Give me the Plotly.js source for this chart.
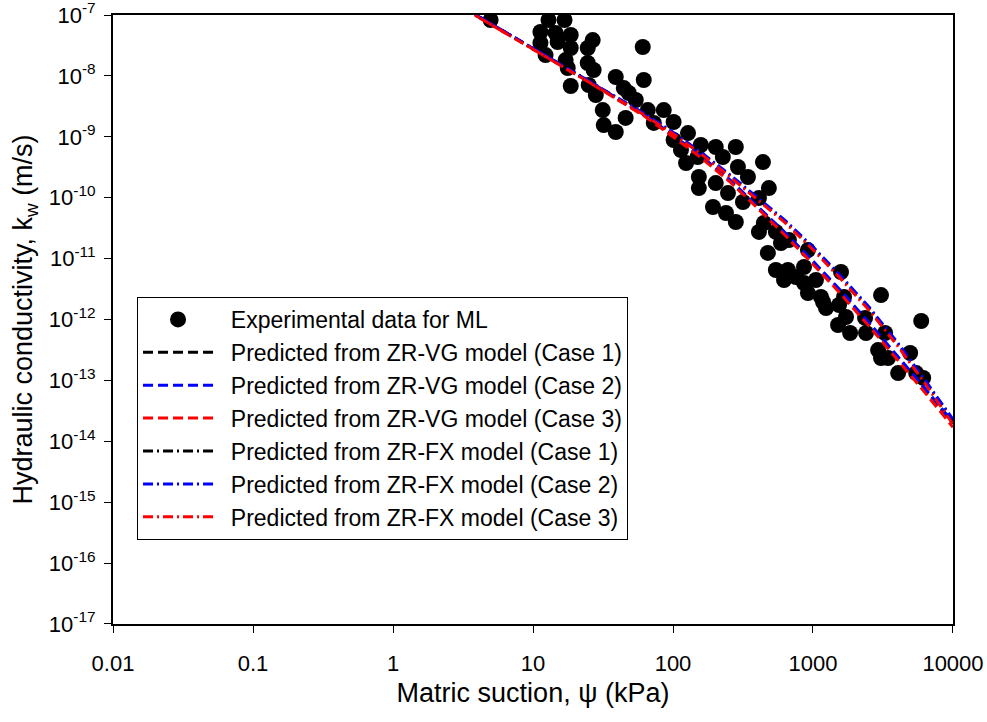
<!DOCTYPE html>
<html>
<head>
<meta charset="utf-8">
<script src="https://cdn.plot.ly/plotly-3.0.1.min.js"></script>
<style>
html,body{margin:0;padding:0;background:#fff;}
#chart{width:987px;height:722px;}
</style>
</head>
<body>
<div id="chart"></div>
<script>
// Experimental data for ML: matric suction (kPa) and hydraulic conductivity (m/s)
const psiExp = [4.98,12.9,16.8,11.3,14.5,18.6,11.3,15.0,18.6,26.7,24.6,12.3,17.1,17.7,24.6,27.1,18.6,25.0,28.1,39.0,
  44.5,48.3,54.2,31.5,32.0,39.0,45.9,60.8,61.8,66.1,85.9,72.9,101,128,101,114,124,158,202,281,
  227,150,153,153,202,247,291,343,439,193,239,281,316,411,484,411,446,476,590,673,
  543,543,662,621,863,863,920,1050,1140,1585,1667,3062,920,755,1180,1239,1535,1722,1510,1841,
  2393,2355,3273,2917,3062,3436,4943,4055,5458,6124,5929];
const kExp = [8.28e-8,8.28e-8,8.28e-8,5.26e-8,5.06e-8,4.70e-8,3.47e-8,3.60e-8,2.87e-8,3.88e-8,2.87e-8,2.20e-8,1.82e-8,1.35e-8,1.63e-8,1.25e-8,6.82e-9,7.09e-9,4.86e-9,9.59e-9,
  6.32e-9,5.24e-9,4.02e-9,2.75e-9,1.56e-9,1.20e-9,2.04e-9,2.98e-8,8.57e-9,2.75e-9,2.75e-9,1.69e-9,1.75e-9,1.15e-9,8.85e-10,6.07e-10,3.71e-10,7.33e-10,6.80e-10,6.80e-10,
  4.66e-10,4.66e-10,2.19e-10,1.44e-10,1.74e-10,1.19e-10,3.19e-10,2.19e-10,3.85e-10,7.03e-11,5.61e-11,3.99e-11,8.49e-11,9.88e-11,1.44e-10,2.74e-11,3.84e-11,1.24e-11,1.80e-11,2.02e-11,
  2.74e-11,6.50e-12,6.50e-12,4.45e-12,7.28e-12,3.97e-12,1.38e-11,4.45e-12,2.34e-12,6.03e-12,2.34e-12,2.52e-12,2.72e-12,4.99e-12,1.94e-12,1.54e-12,1.73e-12,1.10e-12,8.12e-13,6.00e-13,
  6.00e-13,1.06e-12,6.00e-13,3.15e-13,2.33e-13,2.33e-13,2.82e-13,1.32e-13,1.32e-13,1.10e-13,9.45e-13];

// Model predictions
const psiModel = [3.16,6.31,10,15.8,25.1,39.8,63.1,100,158,251,398,631,1000,1585,2512,3981,6310,10000];
const kVG1 = [1.32e-7,5.25e-8,2.82e-8,1.51e-8,8.1e-9,4.25e-9,2.22e-9,1.04e-9,4.75e-10,1.98e-10,7.3e-11,2.6e-11,8.8e-12,2.85e-12,8.6e-13,2.48e-13,7.1e-14,1.95e-14];
const kVG2 = [1.34e-7,5.3e-8,2.85e-8,1.53e-8,8.2e-9,4.3e-9,2.26e-9,1.06e-9,4.85e-10,2.03e-10,7.5e-11,2.68e-11,9.1e-12,2.95e-12,8.9e-13,2.57e-13,7.4e-14,2.05e-14];
const kVG3 = [1.30e-7,5.15e-8,2.76e-8,1.47e-8,7.9e-9,4.12e-9,2.15e-9,1.0e-9,4.55e-10,1.88e-10,6.9e-11,2.42e-11,8.1e-12,2.6e-12,7.8e-13,2.22e-13,6.3e-14,1.7e-14];
const kFX1 = [1.32e-7,5.25e-8,2.82e-8,1.51e-8,8.1e-9,4.35e-9,2.32e-9,1.16e-9,5.45e-10,2.37e-10,9.9e-11,4.1e-11,1.49e-11,4.95e-12,1.53e-12,4.1e-13,9.6e-14,2.2e-14];
const kFX2 = [1.34e-7,5.3e-8,2.85e-8,1.53e-8,8.2e-9,4.4e-9,2.37e-9,1.19e-9,5.6e-10,2.45e-10,1.02e-10,4.25e-11,1.55e-11,5.15e-12,1.6e-12,4.3e-13,1.01e-13,2.3e-14];
const kFX3 = [1.30e-7,5.15e-8,2.76e-8,1.47e-8,7.9e-9,4.22e-9,2.25e-9,1.12e-9,5.25e-10,2.27e-10,9.4e-11,3.9e-11,1.4e-11,4.6e-12,1.42e-12,3.8e-13,8.9e-14,1.9e-14];

const seriesNames = [
  'Experimental data for ML',
  'Predicted from ZR-VG model (Case 1)',
  'Predicted from ZR-VG model (Case 2)',
  'Predicted from ZR-VG model (Case 3)',
  'Predicted from ZR-FX model (Case 1)',
  'Predicted from ZR-FX model (Case 2)',
  'Predicted from ZR-FX model (Case 3)'
];

const xTickVals = [0.01,0.1,1,10,100,1000,10000];
const xTickText = ['0.01','0.1','1','10','100','1000','10000'];
const yTickVals = [1e-17,1e-16,1e-15,1e-14,1e-13,1e-12,1e-11,1e-10,1e-9,1e-8,1e-7];
const yTickText = ['10<sup>-17</sup>','10<sup>-16</sup>','10<sup>-15</sup>','10<sup>-14</sup>','10<sup>-13</sup>','10<sup>-12</sup>','10<sup>-11</sup>','10<sup>-10</sup>','10<sup>-9</sup>','10<sup>-8</sup>','10<sup>-7</sup>'];

const FONT = 'Liberation Sans, Arial, sans-serif';
const DASH = '10px,5px';
const DASHDOT = '10px,4px,2px,4px';
const PAD = '\u00a0\u00a0';

function lineTrace(y, name, color, dash) {
  return {x: psiModel, y: y, name: PAD + name, type: 'scatter', mode: 'lines',
    line: {color: color, width: 3, dash: dash}};
}

const traces = [
  {x: psiExp, y: kExp, name: PAD + seriesNames[0], type: 'scatter', mode: 'markers',
   marker: {color: '#000', size: 16, symbol: 'circle'}},
  lineTrace(kVG1, seriesNames[1], '#000000', DASH),
  lineTrace(kVG2, seriesNames[2], '#0000ff', DASH),
  lineTrace(kVG3, seriesNames[3], '#ff0000', DASH),
  lineTrace(kFX1, seriesNames[4], '#000000', DASHDOT),
  lineTrace(kFX2, seriesNames[5], '#0000ff', DASHDOT),
  lineTrace(kFX3, seriesNames[6], '#ff0000', DASHDOT)
];

const layout = {
  width: 987, height: 722,
  margin: {l: 113, r: 34, t: 15, b: 98},
  paper_bgcolor: '#fff', plot_bgcolor: '#fff',
  font: {family: FONT, color: '#000', size: 22},
  showlegend: true,
  legend: {
    x: 0.0286, y: 0.537, xanchor: 'left', yanchor: 'top',
    bordercolor: '#000', borderwidth: 1, bgcolor: '#fff',
    font: {family: FONT, size: 23, color: '#000'},
    itemwidth: 70
  },
  xaxis: {
    type: 'log', range: [-2.0001, 4.0001],
    tickvals: xTickVals, ticktext: xTickText,
    ticks: 'outside', ticklen: 7, tickwidth: 1, tickcolor: '#000',
    showline: true, linecolor: '#000', linewidth: 2, mirror: true,
    showgrid: false, zeroline: false,
    tickfont: {family: FONT, size: 22},
    ticklabelstandoff: 12,
    ticklabeloverflow: 'allow',
    title: {text: 'Matric suction, \u03c8 (kPa)', font: {family: FONT, size: 27}, standoff: 8}
  },
  yaxis: {
    type: 'log', range: [-17.0001, -6.9999],
    tickvals: yTickVals, ticktext: yTickText,
    ticks: 'outside', ticklen: 7, tickwidth: 1, tickcolor: '#000',
    showline: true, linecolor: '#000', linewidth: 2, mirror: true,
    showgrid: false, zeroline: false,
    tickfont: {family: FONT, size: 22},
    ticklabelstandoff: 4,
    ticklabeloverflow: 'allow',
    title: {text: 'Hydraulic conductivity, k<sub>w</sub> (m/s)', font: {family: FONT, size: 27}, standoff: 8}
  }
};

Plotly.newPlot('chart', traces, layout, {staticPlot: true, displayModeBar: false});
</script>
</body>
</html>
